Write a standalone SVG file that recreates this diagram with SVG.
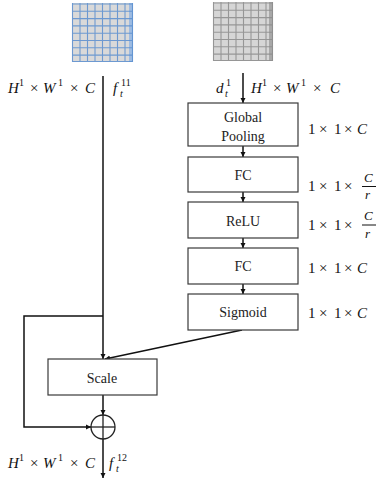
<svg xmlns="http://www.w3.org/2000/svg" width="376" height="480" viewBox="0 0 376 480">
<style>
.box{fill:#fff;stroke:#3a3a3a;stroke-width:1.2}
.t{font-family:"Liberation Serif","Times New Roman",serif;font-size:14px;fill:#222;text-anchor:middle}
.m{font-family:"Liberation Serif","Times New Roman",serif;font-size:15px;fill:#111}
.i{font-style:italic}
.s{font-size:10px}
.fr{font-size:13px}
.ln{fill:none;stroke:#111;stroke-width:1.5}
.gb{stroke:#5b8fd0;stroke-width:1.1;opacity:.85}
.gg{stroke:#8c8c8c;stroke-width:1.1;opacity:.85}
</style>
<defs>
<marker id="ah" viewBox="0 0 10 10" refX="10" refY="5" markerWidth="5" markerHeight="6" markerUnits="userSpaceOnUse" orient="auto">
<path d="M0,0 L10,5 L0,10 z" fill="#111"/>
</marker>
</defs>

<g id="blue-grid">
<rect x="72" y="3" width="61" height="59" fill="#d9d9d9"/>
<rect x="129" y="3" width="4" height="59" fill="#9dbbe2"/>
<g class="gb">
<line x1="72.5" y1="3" x2="72.5" y2="62"/><line x1="80" y1="3" x2="80" y2="62"/><line x1="87.5" y1="3" x2="87.5" y2="62"/><line x1="95" y1="3" x2="95" y2="62"/><line x1="102.5" y1="3" x2="102.5" y2="62"/><line x1="110" y1="3" x2="110" y2="62"/><line x1="117.5" y1="3" x2="117.5" y2="62"/><line x1="125" y1="3" x2="125" y2="62"/><line x1="132.5" y1="3" x2="132.5" y2="62"/>
<line x1="72" y1="4" x2="133" y2="4"/><line x1="72" y1="11.3" x2="133" y2="11.3"/><line x1="72" y1="18.6" x2="133" y2="18.6"/><line x1="72" y1="25.9" x2="133" y2="25.9"/><line x1="72" y1="33.2" x2="133" y2="33.2"/><line x1="72" y1="40.5" x2="133" y2="40.5"/><line x1="72" y1="47.8" x2="133" y2="47.8"/><line x1="72" y1="55.1" x2="133" y2="55.1"/><line x1="72" y1="61.5" x2="133" y2="61.5"/>
</g>
</g>

<g id="gray-grid">
<rect x="213" y="2" width="60" height="59" fill="#d6d6d6"/>
<rect x="269" y="2" width="4" height="59" fill="#a8a8a8"/>
<g class="gg">
<line x1="213.5" y1="2" x2="213.5" y2="61"/><line x1="221" y1="2" x2="221" y2="61"/><line x1="228.5" y1="2" x2="228.5" y2="61"/><line x1="236" y1="2" x2="236" y2="61"/><line x1="243.5" y1="2" x2="243.5" y2="61"/><line x1="251" y1="2" x2="251" y2="61"/><line x1="258.5" y1="2" x2="258.5" y2="61"/><line x1="266" y1="2" x2="266" y2="61"/><line x1="272.5" y1="2" x2="272.5" y2="61"/>
<line x1="213" y1="3" x2="273" y2="3"/><line x1="213" y1="10.3" x2="273" y2="10.3"/><line x1="213" y1="17.6" x2="273" y2="17.6"/><line x1="213" y1="24.9" x2="273" y2="24.9"/><line x1="213" y1="32.2" x2="273" y2="32.2"/><line x1="213" y1="39.5" x2="273" y2="39.5"/><line x1="213" y1="46.8" x2="273" y2="46.8"/><line x1="213" y1="54.1" x2="273" y2="54.1"/><line x1="213" y1="60.5" x2="273" y2="60.5"/>
</g>
</g>

<g id="connectors">
<line class="ln" x1="103" y1="76" x2="103" y2="359" marker-end="url(#ah)"/>
<polyline class="ln" points="103,316 24,316 24,427 91,427" marker-end="url(#ah)"/>
<line class="ln" x1="243" y1="73" x2="243" y2="103" marker-end="url(#ah)"/>
<line class="ln" x1="243" y1="146" x2="243" y2="157" marker-end="url(#ah)"/>
<line class="ln" x1="243" y1="192" x2="243" y2="202" marker-end="url(#ah)"/>
<line class="ln" x1="243" y1="238" x2="243" y2="248" marker-end="url(#ah)"/>
<line class="ln" x1="243" y1="284" x2="243" y2="294" marker-end="url(#ah)"/>
<line class="ln" x1="242" y1="330" x2="105" y2="359" marker-end="url(#ah)"/>
<line class="ln" x1="103" y1="395" x2="103" y2="415" marker-end="url(#ah)"/>
<line class="ln" x1="103" y1="439" x2="103" y2="478" marker-end="url(#ah)"/>
</g>

<g id="global-pooling">
<rect class="box" x="188" y="103" width="110" height="43"/>
<text class="t" x="243" y="122">Global</text>
<text class="t" x="243" y="141">Pooling</text>
</g>
<g id="fc1">
<rect class="box" x="188" y="157" width="110" height="35"/>
<text class="t" x="243" y="180">FC</text>
</g>
<g id="relu">
<rect class="box" x="188" y="202" width="110" height="36"/>
<text class="t" x="243" y="226">ReLU</text>
</g>
<g id="fc2">
<rect class="box" x="188" y="248" width="110" height="36"/>
<text class="t" x="243" y="271">FC</text>
</g>
<g id="sigmoid">
<rect class="box" x="188" y="294" width="110" height="36"/>
<text class="t" x="243" y="317">Sigmoid</text>
</g>
<g id="scale">
<rect class="box" x="48" y="359" width="109" height="36"/>
<text class="t" x="102" y="383">Scale</text>
</g>
<g id="sum">
<circle cx="103" cy="427" r="12" fill="#fff" stroke="#222" stroke-width="1.3"/>
<line x1="91" y1="427" x2="115" y2="427" stroke="#222" stroke-width="1.3"/>
<line x1="103" y1="415" x2="103" y2="439" stroke="#222" stroke-width="1.3"/>
</g>

<g id="labels" class="m">
<text x="8" y="93" class="i">H</text><text x="19" y="86" class="s">1</text><text x="30" y="93">×</text><text x="43" y="93" class="i">W</text><text x="58" y="86" class="s">1</text><text x="70" y="93">×</text><text x="85" y="93" class="i">C</text>
<text x="113" y="93" class="i">f</text><text x="120" y="97" class="s i">t</text><text x="121" y="86" class="s">11</text>

<text x="216" y="93" class="i">d</text><text x="225" y="97" class="s i">t</text><text x="226" y="86" class="s">1</text>
<text x="251" y="93" class="i">H</text><text x="262" y="86" class="s">1</text><text x="273" y="93">×</text><text x="286" y="93" class="i">W</text><text x="301" y="86" class="s">1</text><text x="313" y="93">×</text><text x="330" y="93" class="i">C</text>

<text x="308" y="134">1</text><text x="319" y="134">×</text><text x="334" y="134">1</text><text x="344" y="134">×</text><text x="357" y="134" class="i">C</text>
<text x="308" y="191">1</text><text x="319" y="191">×</text><text x="334" y="191">1</text><text x="344" y="191">×</text><text x="364" y="182" class="i fr">C</text><line x1="362" y1="186.5" x2="376" y2="186.5" stroke="#111" stroke-width="1"/><text x="365" y="199" class="i fr">r</text>
<text x="308" y="230">1</text><text x="319" y="230">×</text><text x="334" y="230">1</text><text x="344" y="230">×</text><text x="364" y="220" class="i fr">C</text><line x1="362" y1="225" x2="376" y2="225" stroke="#111" stroke-width="1"/><text x="365" y="238" class="i fr">r</text>
<text x="308" y="273">1</text><text x="319" y="273">×</text><text x="334" y="273">1</text><text x="344" y="273">×</text><text x="357" y="273" class="i">C</text>
<text x="308" y="318">1</text><text x="319" y="318">×</text><text x="334" y="318">1</text><text x="344" y="318">×</text><text x="357" y="318" class="i">C</text>

<text x="8" y="468" class="i">H</text><text x="19" y="461" class="s">1</text><text x="30" y="468">×</text><text x="43" y="468" class="i">W</text><text x="58" y="461" class="s">1</text><text x="70" y="468">×</text><text x="85" y="468" class="i">C</text>
<text x="109" y="468" class="i">f</text><text x="116" y="472" class="s i">t</text><text x="117" y="461" class="s">12</text>
</g>
</svg>
